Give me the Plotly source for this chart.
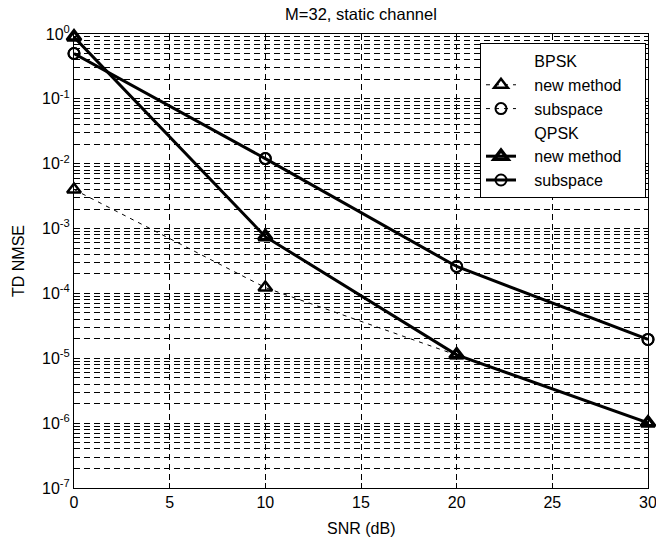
import plotly.graph_objects as go

# SNR points (dB)
snr = [0, 10, 20, 30]

# time-domain NMSE, BPSK
bpsk_new = [4.0e-3, 1.23e-4, 1.12e-5, 1.0e-6]
bpsk_sub = [0.5, 1.2e-2, 2.6e-4, 1.95e-5]

# time-domain NMSE, QPSK
qpsk_new = [0.9, 7.5e-4, 1.13e-5, 1.01e-6]
qpsk_sub = [0.5, 1.2e-2, 2.6e-4, 1.95e-5]

y_tick_vals = [1e-7, 1e-6, 1e-5, 1e-4, 1e-3, 1e-2, 1e-1, 1e0]
y_tick_text = ["10<sup>-7</sup>", "10<sup>-6</sup>", "10<sup>-5</sup>", "10<sup>-4</sup>",
               "10<sup>-3</sup>", "10<sup>-2</sup>", "10<sup>-1</sup>", "10<sup>0</sup>"]

FONT = "Liberation Sans, Arial, sans-serif"
grid_dash = "6px,4px"
LEAD = "\u00a0" * 3   # gap between legend sample and label
TAIL = "\u00a0" * 4   # room on the right of the legend box

fig = go.Figure()


def header(name):
    # text-only legend row used as a group heading
    fig.add_trace(go.Scatter(x=[None], y=[None], mode="lines", name=LEAD + name,
                             line=dict(color="rgba(0,0,0,0)", width=0),
                             hoverinfo="skip"))


header("BPSK")
fig.add_trace(go.Scatter(x=snr, y=bpsk_new, mode="lines+markers",
                         name=LEAD + "new method" + TAIL,
                         line=dict(color="black", width=1, dash="4px,5px"),
                         marker=dict(symbol="triangle-up-open", size=12, color="black",
                                     line=dict(width=2.5, color="black")),
                         cliponaxis=False))
fig.add_trace(go.Scatter(x=snr, y=bpsk_sub, mode="lines+markers",
                         name=LEAD + "subspace",
                         line=dict(color="black", width=1, dash="4px,5px"),
                         marker=dict(symbol="circle-open", size=11, color="black",
                                     line=dict(width=2, color="black")),
                         cliponaxis=False))
header("QPSK")
fig.add_trace(go.Scatter(x=snr, y=qpsk_new, mode="lines+markers",
                         name=LEAD + "new method" + TAIL,
                         line=dict(color="black", width=3),
                         marker=dict(symbol="triangle-up-open", size=12, color="black",
                                     line=dict(width=3.5, color="black")),
                         cliponaxis=False))
fig.add_trace(go.Scatter(x=snr, y=qpsk_sub, mode="lines+markers",
                         name=LEAD + "subspace",
                         line=dict(color="black", width=3),
                         marker=dict(symbol="circle-open", size=11, color="black",
                                     line=dict(width=2, color="black")),
                         cliponaxis=False))

fig.update_layout(
    width=656, height=539,
    margin=dict(l=74, r=8, t=34, b=51),
    paper_bgcolor="white", plot_bgcolor="white",
    font=dict(family=FONT, size=16, color="black"),
    title=dict(text="M=32, static channel", x=(74 + 648) / 2 / 656, xanchor="center",
               y=1 - 14 / 539, yanchor="middle", font=dict(size=16.5)),
    showlegend=True,
    legend=dict(x=0.9965, y=0.98, xanchor="right", yanchor="top",
                bgcolor="white", bordercolor="black", borderwidth=1,
                font=dict(size=16), tracegroupgap=0),
    xaxis=dict(range=[0, 30], dtick=5, tick0=0, automargin=False,
               ticklabeloverflow="allow",
               showline=True, linecolor="black", linewidth=1, mirror="allticks",
               ticks="inside", ticklen=5, tickcolor="black",
               showgrid=True, gridcolor="black", gridwidth=1, griddash=grid_dash,
               zeroline=False),
    yaxis=dict(type="log", range=[-7, 0], automargin=False,
               ticklabeloverflow="allow",
               tickvals=y_tick_vals, ticktext=y_tick_text,
               showline=True, linecolor="black", linewidth=1, mirror="allticks",
               ticks="inside", ticklen=5, tickcolor="black",
               showgrid=True, gridcolor="black", gridwidth=1, griddash=grid_dash,
               minor=dict(dtick="D1", ticks="inside", ticklen=3, tickcolor="black",
                          showgrid=True, gridcolor="black", gridwidth=1,
                          griddash=grid_dash),
               zeroline=False),
    annotations=[
        dict(text="SNR (dB)", xref="paper", yref="paper", x=0.5, y=(488 - 528) / 454,
             xanchor="center", yanchor="middle", showarrow=False, font=dict(size=16)),
        dict(text="TD NMSE", xref="paper", yref="paper", x=(18 - 74) / 574, y=0.5,
             xanchor="center", yanchor="middle", textangle=-90, showarrow=False,
             font=dict(size=16)),
    ],
)

fig.write_html("out.html")
